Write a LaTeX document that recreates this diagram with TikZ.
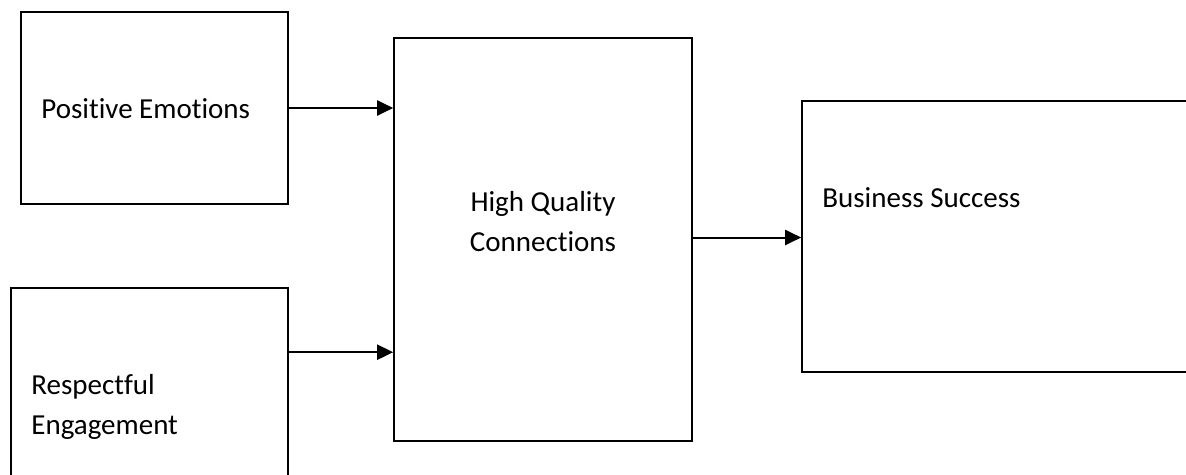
\documentclass[tikz,border=0pt]{standalone}
\usepackage{fontspec}
\setmainfont{Carlito}[Ligatures=NoCommon]
\usepackage{tikz}
\usetikzlibrary{calc,arrows.meta}
\tikzset{
  box/.style={draw=black, line width=1.6pt, inner sep=0pt},
  arr/.style={draw=black, line width=2pt, -{Triangle[length=16pt,width=15pt]}},
  lab/.style={text=black, inner sep=0pt, font=\fontsize{29}{40}\selectfont},
}

\begin{document}
\begin{tikzpicture}[x=1pt, y=-1pt]
  \useasboundingbox (0,0) rectangle (1186,474);
  \clip (0,0) rectangle (1186,474);

  % boxes (two of them run off the page)
  \node[box, minimum width=267pt, minimum height=192pt] (pe)  at (154.5,108) {};
  \node[box, minimum width=277pt, minimum height=202pt] (re)  at (149.5,389) {};
  \node[box, minimum width=298pt, minimum height=403pt] (hqc) at (543,239.5) {};
  \node[box, minimum width=398pt, minimum height=271pt] (bs)  at (1001,236.5) {};

  % labels, set in from the top left corner (base = last line)
  \node[lab, anchor=base west] (peLab) at ($(pe.north west)+(21,107)$) {Positive Emotions};
  \node[lab, anchor=base west, align=left] (reLab) at ($(re.north west)+(21,147)$) {Respectful\\Engagement};
  \node[lab, anchor=base, align=center] (hqcLab) at ($(hqc.north)+(0,214)$) {High Quality\\Connections};
  \node[lab, anchor=base west] (bsLab) at ($(bs.north west)+(21,107)$) {Business Success};

  % arrows
  \draw[arr] (pe.east) -- (pe.east -| hqc.west);
  \coordinate (reOut) at ($(re.north east)+(0,65)$);
  \draw[arr] (reOut) -- (reOut -| hqc.west);
  \coordinate (hqcOut) at ($(hqc.east)+(0,-2)$);
  \draw[arr] (hqcOut) -- (hqcOut -| bs.west);
\end{tikzpicture}
\end{document}
